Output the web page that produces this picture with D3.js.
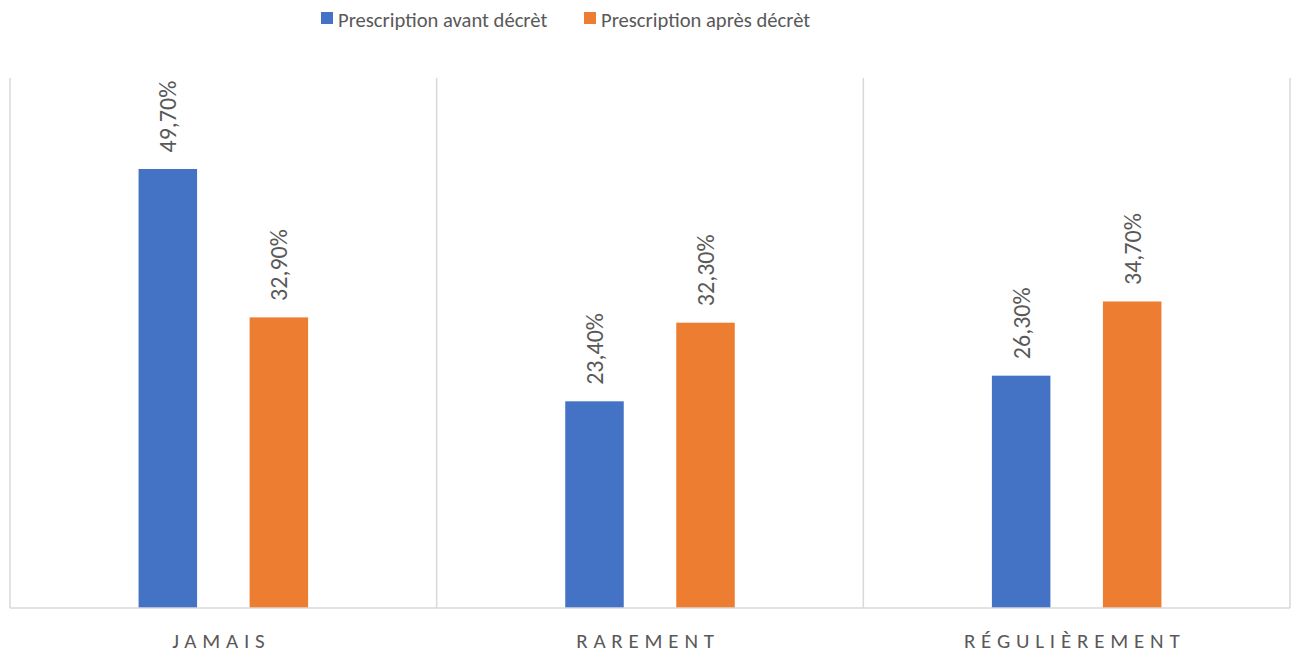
<!DOCTYPE html>
<html><head><meta charset="utf-8">
<script src="https://cdn.jsdelivr.net/npm/d3@7/dist/d3.min.js"></script>
<style>
html,body{margin:0;padding:0;background:#fff;}
svg{display:block;font-family:"Carlito","Calibri","Open Sans",sans-serif;}
</style></head>
<body>
<svg id="chart" width="1299" height="654"></svg>
<script>
const categories = ["JAMAIS", "RAREMENT", "RÉGULIÈREMENT"];
const seriesNames = ["Prescription avant décrèt", "Prescription après décrèt"];
const avant = [49.7, 23.4, 26.3];
const apres = [32.9, 32.3, 34.7];
const seriesColors = ["#4472C4", "#ED7D31"];

const seriesValues = [avant, apres];
const data = categories.map((c, i) => ({cat: c, vals: seriesNames.map((s, j) => ({s, v: seriesValues[j][i]}))}));

const svg = d3.select("#chart");
const pLeft = 10, pRight = 1290, pTop = 78, pBottom = 608;
const textColor = "#595959", gridColor = "#D9D9D9";

const x0 = d3.scaleBand().domain(categories).range([pLeft, pRight]).padding(0);
const x1 = d3.scaleBand().domain(seriesNames).range([0, x0.bandwidth()]).paddingInner(0.473).paddingOuter(1.158);
const y = d3.scaleLinear().domain([0, 60]).range([pBottom, pTop]);
const color = d3.scaleOrdinal().domain(seriesNames).range(seriesColors);

// separators
const seps = categories.map(c => x0(c)).concat([pRight]);
svg.append("g").selectAll("line").data(seps).join("line")
  .attr("x1", d => d).attr("x2", d => d).attr("y1", pTop).attr("y2", pBottom)
  .attr("stroke", gridColor).attr("stroke-width", 1.5);

// bars
const g = svg.append("g").selectAll("g").data(data).join("g")
  .attr("transform", d => `translate(${x0(d.cat)},0)`);
g.selectAll("rect").data(d => d.vals).join("rect")
  .attr("x", d => x1(d.s)).attr("width", x1.bandwidth())
  .attr("y", d => y(d.v)).attr("height", d => y(0) - y(d.v))
  .attr("fill", d => color(d.s));

// data labels
const fmt = v => d3.format(".2f")(v).replace(".", ",") + "%";
g.selectAll("text").data(d => d.vals).join("text")
  .attr("transform", d => `translate(${x1(d.s) + x1.bandwidth()/2},${y(d.v) - 16.5}) rotate(-90)`)
  .attr("dy", "0.35em")
  .attr("text-anchor", "start")
  .attr("font-size", 24)
  .attr("fill", textColor)
  .text(d => fmt(d.v));

// baseline axis
const xAxis = d3.axisBottom(x0).tickSize(0).tickPadding(0);
const ax = svg.append("g").attr("transform", `translate(0,${pBottom})`).call(xAxis);
ax.attr("font-family", null).attr("font-size", null);
ax.select(".domain").attr("stroke", gridColor).attr("stroke-width", 1.5).attr("d", `M${pLeft},0H${pRight}`);
ax.selectAll(".tick text")
  .attr("y", 40).attr("dy", 0)
  .attr("font-size", 21)
  .attr("letter-spacing", "5.8px")
  .attr("dx", "-2px")
  .attr("fill", textColor);

// legend
const legendItems = [{name: seriesNames[0], x: 321}, {name: seriesNames[1], x: 584}];
const lg = svg.append("g").selectAll("g").data(legendItems).join("g")
  .attr("transform", d => `translate(${d.x},12)`);
lg.append("rect").attr("width", 12).attr("height", 12).attr("fill", d => color(d.name));
lg.append("text").attr("x", 17).attr("y", 15).attr("font-size", 20.6)
  .attr("fill", textColor).text(d => d.name);
</script>
</body></html>
